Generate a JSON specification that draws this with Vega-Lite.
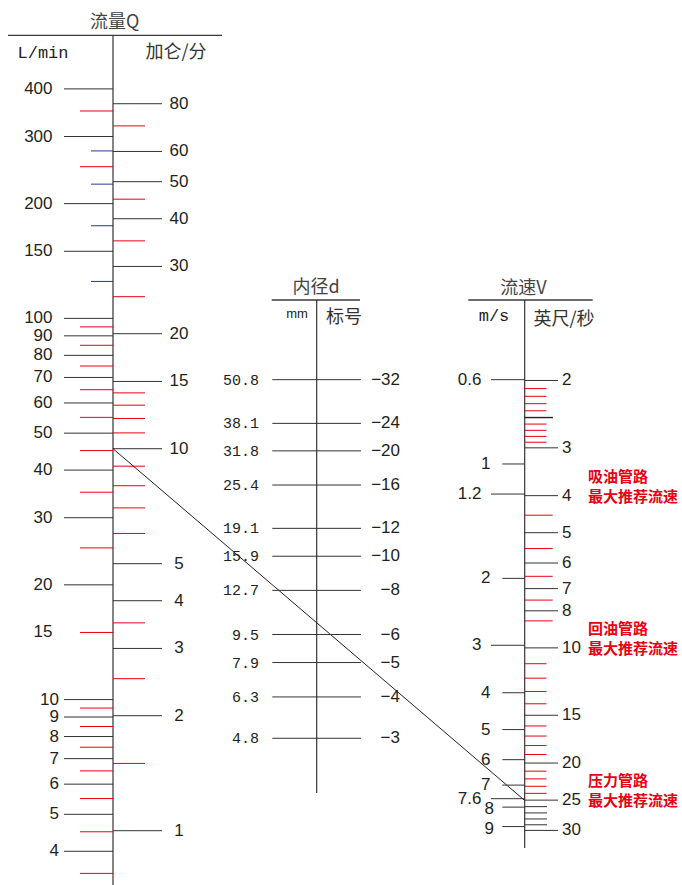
{
  "$schema": "https://vega.github.io/schema/vega-lite/v6.json",
  "width": 682,
  "height": 885,
  "padding": 0,
  "autosize": {"type": "none"},
  "background": "white",
  "config": {"view": {"stroke": null}, "axis": {"disable": true}, "legend": {"disable": true}},
  "datasets": {
    "layout_text": [
      {"t": "流量Q", "x": 114.7, "y": 23.3, "g": "title"},
      {"t": "加仑/分", "x": 176, "y": 52.5, "g": "cjk"},
      {"t": "内径d", "x": 316, "y": 288, "g": "title"},
      {"t": "标号", "x": 344, "y": 318, "g": "cjk"},
      {"t": "流速V", "x": 523.3, "y": 289, "g": "title"},
      {"t": "英尺/秒", "x": 564, "y": 320, "g": "cjk"},
      {"t": "L/min", "x": 43, "y": 52.5, "g": "mono"},
      {"t": "m/s", "x": 494, "y": 316, "g": "mono"},
      {"t": "mm", "x": 297, "y": 314, "g": "small"}
    ],
    "layout_lines": [
      {"x": 8, "x2": 222, "y": 35.3, "y2": 35.3, "g": "header"},
      {"x": 271.7, "x2": 360, "y": 300, "y2": 300, "g": "header"},
      {"x": 468.3, "x2": 592.7, "y": 300, "y2": 300, "g": "header"},
      {"x": 113, "x2": 113, "y": 35.3, "y2": 885, "g": "axis"},
      {"x": 316.7, "x2": 316.7, "y": 300, "y2": 793, "g": "axis"},
      {"x": 524.7, "x2": 524.7, "y": 300, "y2": 848, "g": "axis"}
    ],
    "Q_Lmin": [
      {"v": 400, "kind": "major", "label": "400"},
      {"v": 300, "kind": "major", "label": "300"},
      {"v": 200, "kind": "major", "label": "200"},
      {"v": 150, "kind": "major", "label": "150"},
      {"v": 100, "kind": "major", "label": "100"},
      {"v": 90, "kind": "major", "label": "90"},
      {"v": 80, "kind": "major", "label": "80"},
      {"v": 70, "kind": "major", "label": "70"},
      {"v": 60, "kind": "major", "label": "60"},
      {"v": 50, "kind": "major", "label": "50"},
      {"v": 40, "kind": "major", "label": "40"},
      {"v": 30, "kind": "major", "label": "30"},
      {"v": 20, "kind": "major", "label": "20"},
      {"v": 10, "kind": "major", "label": "10"},
      {"v": 9, "kind": "major", "label": "9"},
      {"v": 8, "kind": "major", "label": "8"},
      {"v": 7, "kind": "major", "label": "7"},
      {"v": 6, "kind": "major", "label": "6"},
      {"v": 5, "kind": "major", "label": "5"},
      {"v": 4, "kind": "major", "label": "4"},
      {"v": 350, "kind": "red"},
      {"v": 250, "kind": "red"},
      {"v": 95, "kind": "red"},
      {"v": 85, "kind": "red"},
      {"v": 75, "kind": "red"},
      {"v": 65, "kind": "red"},
      {"v": 55, "kind": "red"},
      {"v": 45, "kind": "red"},
      {"v": 35, "kind": "red"},
      {"v": 25, "kind": "red"},
      {"v": 15, "kind": "red", "label": "15"},
      {"v": 9.5, "kind": "red"},
      {"v": 8.5, "kind": "red"},
      {"v": 7.5, "kind": "red"},
      {"v": 6.5, "kind": "red"},
      {"v": 5.5, "kind": "red"},
      {"v": 4.5, "kind": "red"},
      {"v": 3.5, "kind": "red"},
      {"v": 275, "kind": "blue"},
      {"v": 225, "kind": "blue"},
      {"v": 175, "kind": "blue"},
      {"v": 125, "kind": "blue"}
    ],
    "Q_gal": [
      {"v": 80, "kind": "major", "label": "80"},
      {"v": 60, "kind": "major", "label": "60"},
      {"v": 50, "kind": "major", "label": "50"},
      {"v": 40, "kind": "major", "label": "40"},
      {"v": 30, "kind": "major", "label": "30"},
      {"v": 20, "kind": "major", "label": "20"},
      {"v": 15, "kind": "major", "label": "15"},
      {"v": 10, "kind": "major", "label": "10"},
      {"v": 5, "kind": "major", "label": "5"},
      {"v": 4, "kind": "major", "label": "4"},
      {"v": 3, "kind": "major", "label": "3"},
      {"v": 2, "kind": "major", "label": "2"},
      {"v": 1, "kind": "major", "label": "1"},
      {"v": 70, "kind": "red"},
      {"v": 45, "kind": "red"},
      {"v": 35, "kind": "red"},
      {"v": 25, "kind": "red"},
      {"v": 14, "kind": "red"},
      {"v": 13, "kind": "red"},
      {"v": 12, "kind": "red"},
      {"v": 11, "kind": "red"},
      {"v": 9, "kind": "red"},
      {"v": 8, "kind": "red"},
      {"v": 7, "kind": "red"},
      {"v": 6, "kind": "red"},
      {"v": 3.5, "kind": "red"},
      {"v": 2.5, "kind": "red"},
      {"v": 1.5, "kind": "red"}
    ],
    "d": [
      {"mm": 50.8, "mm_label": "50.8", "dash": "−32"},
      {"mm": 38.1, "mm_label": "38.1", "dash": "−24"},
      {"mm": 31.8, "mm_label": "31.8", "dash": "−20"},
      {"mm": 25.4, "mm_label": "25.4", "dash": "−16"},
      {"mm": 19.1, "mm_label": "19.1", "dash": "−12"},
      {"mm": 15.9, "mm_label": "15.9", "dash": "−10"},
      {"mm": 12.7, "mm_label": "12.7", "dash": "−8"},
      {"mm": 9.5, "mm_label": "9.5", "dash": "−6"},
      {"mm": 7.9, "mm_label": "7.9", "dash": "−5"},
      {"mm": 6.3, "mm_label": "6.3", "dash": "−4"},
      {"mm": 4.8, "mm_label": "4.8", "dash": "−3"}
    ],
    "V_ms": [
      {"v": 0.6, "label": "0.6", "long": true},
      {"v": 1, "label": "1", "long": false},
      {"v": 1.2, "label": "1.2", "long": true},
      {"v": 2, "label": "2", "long": false},
      {"v": 3, "label": "3", "long": true},
      {"v": 4, "label": "4", "long": false},
      {"v": 5, "label": "5", "long": false},
      {"v": 6, "label": "6", "long": false},
      {"v": 7, "label": "7", "long": false},
      {"v": 7.6, "label": "7.6", "long": true},
      {"v": 8, "label": "8", "long": false},
      {"v": 9, "label": "9", "long": false}
    ],
    "V_fts": [
      {"v": 2, "kind": "major", "label": "2"},
      {"v": 3, "kind": "major", "label": "3"},
      {"v": 4, "kind": "major", "label": "4"},
      {"v": 5, "kind": "major", "label": "5"},
      {"v": 6, "kind": "major", "label": "6"},
      {"v": 7, "kind": "major", "label": "7"},
      {"v": 8, "kind": "major", "label": "8"},
      {"v": 10, "kind": "major", "label": "10"},
      {"v": 15, "kind": "major", "label": "15"},
      {"v": 20, "kind": "major", "label": "20"},
      {"v": 25, "kind": "major", "label": "25"},
      {"v": 30, "kind": "major", "label": "30"},
      {"v": 2.5, "kind": "mid"},
      {"v": 26, "kind": "short"},
      {"v": 27, "kind": "short"},
      {"v": 28, "kind": "short"},
      {"v": 29, "kind": "short"},
      {"v": 2.1, "kind": "red"},
      {"v": 2.2, "kind": "red"},
      {"v": 2.3, "kind": "red"},
      {"v": 2.4, "kind": "red"},
      {"v": 2.6, "kind": "red"},
      {"v": 2.7, "kind": "red"},
      {"v": 2.8, "kind": "red"},
      {"v": 2.9, "kind": "red"},
      {"v": 4.5, "kind": "redlong"},
      {"v": 5.5, "kind": "redlong"},
      {"v": 6.5, "kind": "redlong"},
      {"v": 7.5, "kind": "redlong"},
      {"v": 8.5, "kind": "redlong"},
      {"v": 11, "kind": "red"},
      {"v": 12, "kind": "red"},
      {"v": 13, "kind": "red"},
      {"v": 14, "kind": "red"},
      {"v": 16, "kind": "red"},
      {"v": 17, "kind": "red"},
      {"v": 18, "kind": "red"},
      {"v": 19, "kind": "red"},
      {"v": 21, "kind": "red"},
      {"v": 22, "kind": "red"},
      {"v": 23, "kind": "red"},
      {"v": 24, "kind": "red"}
    ],
    "notes": [
      {"v": 4, "l1": "吸油管路", "l2": "最大推荐流速"},
      {"v": 10, "l1": "回油管路", "l2": "最大推荐流速"},
      {"v": 25, "l1": "压力管路", "l2": "最大推荐流速"}
    ]
  },
  "resolve": {"scale": {"y": "independent"}},
  "layer": [
    {
      "layer": [
        {
          "data": {"name": "layout_lines"},
          "transform": [{"filter": "datum.g === 'header'"}],
          "mark": {"type": "rule", "color": "#3a3a3a", "strokeWidth": 1.3},
          "encoding": {
            "x": {"field": "x", "type": "quantitative", "scale": {"domain": [0, 682], "nice": false, "zero": false}},
            "x2": {"field": "x2"},
            "y": {"field": "y", "type": "quantitative", "scale": {"domain": [0, 885], "reverse": true, "nice": false, "zero": false}},
            "y2": {"field": "y2"}
          }
        },
        {
          "data": {"name": "layout_lines"},
          "transform": [{"filter": "datum.g === 'axis'"}],
          "mark": {"type": "rule", "color": "#333333", "strokeWidth": 1.2},
          "encoding": {
            "x": {"field": "x", "type": "quantitative"},
            "x2": {"field": "x2"},
            "y": {"field": "y", "type": "quantitative"},
            "y2": {"field": "y2"}
          }
        },
        {
          "data": {"name": "layout_text"},
          "transform": [{"filter": "datum.g === 'title'"}],
          "mark": {"type": "text", "font": "Noto Sans CJK SC", "fontSize": 18, "color": "#444444", "align": "center", "baseline": "middle"},
          "encoding": {
            "x": {"field": "x", "type": "quantitative"},
            "y": {"field": "y", "type": "quantitative"},
            "text": {"field": "t"}
          }
        },
        {
          "data": {"name": "layout_text"},
          "transform": [{"filter": "datum.g === 'cjk'"}],
          "mark": {"type": "text", "font": "Noto Sans CJK SC", "fontSize": 18, "color": "#333333", "align": "center", "baseline": "middle"},
          "encoding": {
            "x": {"field": "x", "type": "quantitative"},
            "y": {"field": "y", "type": "quantitative"},
            "text": {"field": "t"}
          }
        },
        {
          "data": {"name": "layout_text"},
          "transform": [{"filter": "datum.g === 'mono'"}],
          "mark": {"type": "text", "font": "Liberation Mono", "fontSize": 17, "color": "#222222", "align": "center", "baseline": "middle"},
          "encoding": {
            "x": {"field": "x", "type": "quantitative"},
            "y": {"field": "y", "type": "quantitative"},
            "text": {"field": "t"}
          }
        },
        {
          "data": {"name": "layout_text"},
          "transform": [{"filter": "datum.g === 'small'"}],
          "mark": {"type": "text", "font": "Liberation Sans", "fontSize": 13, "color": "#222222", "align": "center", "baseline": "middle"},
          "encoding": {
            "x": {"field": "x", "type": "quantitative"},
            "y": {"field": "y", "type": "quantitative"},
            "text": {"field": "t"}
          }
        }
      ]
    },
    {
      "data": {"name": "Q_Lmin"},
      "layer": [
        {
          "transform": [{"filter": "datum.kind === 'major'"}],
          "mark": {"type": "rule", "color": "#333333", "strokeWidth": 1},
          "encoding": {
            "x": {"datum": 64, "type": "quantitative"},
            "x2": {"datum": 113},
            "y": {"field": "v", "type": "quantitative", "scale": {"type": "log", "domain": [3.2628, 684.3], "nice": false}}
          }
        },
        {
          "transform": [{"filter": "datum.kind === 'red'"}],
          "mark": {"type": "rule", "color": "#e60012", "strokeWidth": 1},
          "encoding": {
            "x": {"datum": 80, "type": "quantitative"},
            "x2": {"datum": 113},
            "y": {"field": "v", "type": "quantitative"}
          }
        },
        {
          "transform": [{"filter": "datum.kind === 'blue'"}],
          "mark": {"type": "rule", "color": "#2a3990", "strokeWidth": 1},
          "encoding": {
            "x": {"datum": 91, "type": "quantitative"},
            "x2": {"datum": 113},
            "y": {"field": "v", "type": "quantitative"}
          }
        },
        {
          "transform": [{"filter": "datum.label != null && datum.v > 10"}],
          "mark": {"type": "text", "font": "Liberation Sans", "fontSize": 17, "color": "#231f20", "align": "right", "baseline": "middle"},
          "encoding": {
            "x": {"datum": 52.5, "type": "quantitative"},
            "y": {"field": "v", "type": "quantitative"},
            "text": {"field": "label"}
          }
        },
        {
          "transform": [{"filter": "datum.label != null && datum.v <= 10"}],
          "mark": {"type": "text", "font": "Liberation Sans", "fontSize": 17, "color": "#231f20", "align": "right", "baseline": "middle"},
          "encoding": {
            "x": {"datum": 59, "type": "quantitative"},
            "y": {"field": "v", "type": "quantitative"},
            "text": {"field": "label"}
          }
        }
      ]
    },
    {
      "data": {"name": "Q_gal"},
      "layer": [
        {
          "transform": [{"filter": "datum.kind === 'major'"}],
          "mark": {"type": "rule", "color": "#333333", "strokeWidth": 1},
          "encoding": {
            "x": {"datum": 113, "type": "quantitative"},
            "x2": {"datum": 162},
            "y": {"field": "v", "type": "quantitative", "scale": {"type": "log", "domain": [0.72085, 149.5], "nice": false}}
          }
        },
        {
          "transform": [{"filter": "datum.kind === 'red'"}],
          "mark": {"type": "rule", "color": "#e60012", "strokeWidth": 1},
          "encoding": {
            "x": {"datum": 113, "type": "quantitative"},
            "x2": {"datum": 145},
            "y": {"field": "v", "type": "quantitative"}
          }
        },
        {
          "transform": [{"filter": "datum.label != null"}],
          "mark": {"type": "text", "font": "Liberation Sans", "fontSize": 17, "color": "#231f20", "align": "center", "baseline": "middle"},
          "encoding": {
            "x": {"datum": 179, "type": "quantitative"},
            "y": {"field": "v", "type": "quantitative"},
            "text": {"field": "label"}
          }
        },
        {
          "data": {"values": [{"Q_gal": 10, "V_as_gal": 1.2}]},
          "mark": {"type": "rule", "color": "#222222", "strokeWidth": 1},
          "encoding": {
            "x": {"datum": 113, "type": "quantitative"},
            "x2": {"datum": 524.7},
            "y": {"field": "Q_gal", "type": "quantitative"},
            "y2": {"field": "V_as_gal"}
          }
        }
      ]
    },
    {
      "data": {"name": "d"},
      "layer": [
        {
          "mark": {"type": "rule", "color": "#333333", "strokeWidth": 1},
          "encoding": {
            "x": {"datum": 272.3, "type": "quantitative"},
            "x2": {"datum": 361},
            "y": {"field": "mm", "type": "quantitative", "scale": {"type": "log", "domain": [1.8281, 617.5], "nice": false}}
          }
        },
        {
          "mark": {"type": "text", "font": "Liberation Mono", "fontSize": 15, "color": "#231f20", "align": "right", "baseline": "middle"},
          "encoding": {
            "x": {"datum": 259, "type": "quantitative"},
            "y": {"field": "mm", "type": "quantitative"},
            "text": {"field": "mm_label"}
          }
        },
        {
          "mark": {"type": "text", "font": "Liberation Sans", "fontSize": 17, "color": "#231f20", "align": "right", "baseline": "middle"},
          "encoding": {
            "x": {"datum": 400, "type": "quantitative"},
            "y": {"field": "mm", "type": "quantitative"},
            "text": {"field": "dash"}
          }
        }
      ]
    },
    {
      "data": {"name": "V_ms"},
      "layer": [
        {
          "transform": [{"filter": "datum.long"}],
          "mark": {"type": "rule", "color": "#333333", "strokeWidth": 1},
          "encoding": {
            "x": {"datum": 491, "type": "quantitative"},
            "x2": {"datum": 524.7},
            "y": {"field": "v", "type": "quantitative", "scale": {"type": "log", "domain": [0.060117, 12.823], "nice": false, "reverse": true}}
          }
        },
        {
          "transform": [{"filter": "!datum.long"}],
          "mark": {"type": "rule", "color": "#333333", "strokeWidth": 1},
          "encoding": {
            "x": {"datum": 502.3, "type": "quantitative"},
            "x2": {"datum": 524.7},
            "y": {"field": "v", "type": "quantitative"}
          }
        },
        {
          "transform": [{"filter": "datum.long"}],
          "mark": {"type": "text", "font": "Liberation Sans", "fontSize": 17, "color": "#231f20", "align": "right", "baseline": "middle"},
          "encoding": {
            "x": {"datum": 481.5, "type": "quantitative"},
            "y": {"field": "v", "type": "quantitative"},
            "text": {"field": "label"}
          }
        },
        {
          "transform": [{"filter": "!datum.long && datum.v < 8"}],
          "mark": {"type": "text", "font": "Liberation Sans", "fontSize": 17, "color": "#231f20", "align": "right", "baseline": "middle"},
          "encoding": {
            "x": {"datum": 490.5, "type": "quantitative"},
            "y": {"field": "v", "type": "quantitative"},
            "text": {"field": "label"}
          }
        },
        {
          "transform": [{"filter": "!datum.long && datum.v >= 8"}],
          "mark": {"type": "text", "font": "Liberation Sans", "fontSize": 17, "color": "#231f20", "align": "right", "baseline": "middle", "dy": 2},
          "encoding": {
            "x": {"datum": 494, "type": "quantitative"},
            "y": {"field": "v", "type": "quantitative"},
            "text": {"field": "label"}
          }
        }
      ]
    },
    {
      "data": {"name": "V_fts"},
      "layer": [
        {
          "transform": [{"filter": "datum.kind === 'major'"}],
          "mark": {"type": "rule", "color": "#333333", "strokeWidth": 1},
          "encoding": {
            "x": {"datum": 524.7, "type": "quantitative"},
            "x2": {"datum": 558},
            "y": {"field": "v", "type": "quantitative", "scale": {"type": "log", "domain": [0.20255, 41.666], "nice": false, "reverse": true}}
          }
        },
        {
          "transform": [{"filter": "datum.kind === 'mid'"}],
          "mark": {"type": "rule", "color": "#222222", "strokeWidth": 1.4},
          "encoding": {
            "x": {"datum": 524.7, "type": "quantitative"},
            "x2": {"datum": 553},
            "y": {"field": "v", "type": "quantitative"}
          }
        },
        {
          "transform": [{"filter": "datum.kind === 'short'"}],
          "mark": {"type": "rule", "color": "#333333", "strokeWidth": 1},
          "encoding": {
            "x": {"datum": 524.7, "type": "quantitative"},
            "x2": {"datum": 547},
            "y": {"field": "v", "type": "quantitative"}
          }
        },
        {
          "transform": [{"filter": "datum.kind === 'red'"}],
          "mark": {"type": "rule", "color": "#e60012", "strokeWidth": 1},
          "encoding": {
            "x": {"datum": 524.7, "type": "quantitative"},
            "x2": {"datum": 546.5},
            "y": {"field": "v", "type": "quantitative"}
          }
        },
        {
          "transform": [{"filter": "datum.kind === 'redlong'"}],
          "mark": {"type": "rule", "color": "#e60012", "strokeWidth": 1},
          "encoding": {
            "x": {"datum": 524.7, "type": "quantitative"},
            "x2": {"datum": 552.7},
            "y": {"field": "v", "type": "quantitative"}
          }
        },
        {
          "transform": [{"filter": "datum.label != null"}],
          "mark": {"type": "text", "font": "Liberation Sans", "fontSize": 17, "color": "#231f20", "align": "left", "baseline": "middle"},
          "encoding": {
            "x": {"datum": 562, "type": "quantitative"},
            "y": {"field": "v", "type": "quantitative"},
            "text": {"field": "label"}
          }
        },
        {
          "data": {"name": "notes"},
          "mark": {"type": "text", "font": "Noto Sans CJK SC", "fontSize": 15, "fontWeight": "bold", "color": "#e60012", "align": "left", "baseline": "middle", "dy": -19},
          "encoding": {
            "x": {"datum": 588, "type": "quantitative"},
            "y": {"field": "v", "type": "quantitative"},
            "text": {"field": "l1"}
          }
        },
        {
          "data": {"name": "notes"},
          "mark": {"type": "text", "font": "Noto Sans CJK SC", "fontSize": 15, "fontWeight": "bold", "color": "#e60012", "align": "left", "baseline": "middle", "dy": 1},
          "encoding": {
            "x": {"datum": 588, "type": "quantitative"},
            "y": {"field": "v", "type": "quantitative"},
            "text": {"field": "l2"}
          }
        }
      ]
    }
  ]
}
